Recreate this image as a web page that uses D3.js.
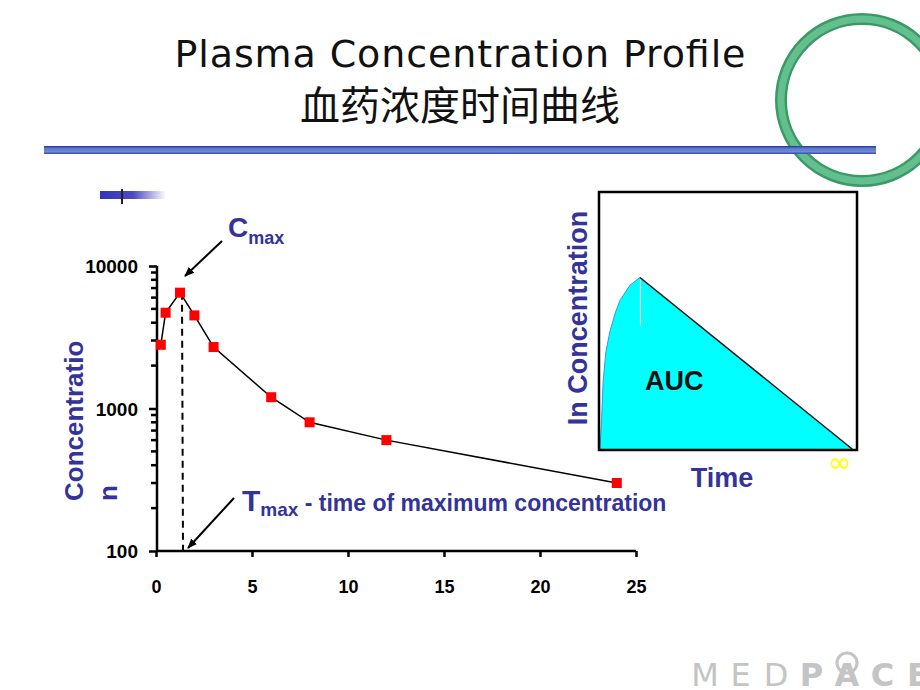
<!DOCTYPE html>
<html>
<head>
<meta charset="utf-8">
<script src="https://cdn.jsdelivr.net/npm/d3@7"></script>
<style>
body { margin: 0; background: #fff; }
svg { display: block; }
text { font-family: "Liberation Sans", Arial, sans-serif; }
</style>
</head>
<body>
<div id="chart"></div>
<script>
// plasma concentration data
var times = [0.25, 0.5, 1.25, 2, 3, 6, 8, 12, 24];
var concs = [2800, 4700, 6500, 4500, 2700, 1200, 800, 600, 300];
var xTicks = [0, 5, 10, 15, 20, 25];
var yTicks = [100, 1000, 10000];

// inset AUC sketch, arbitrary units 0..100
var insetT = [0, 0.3, 0.6, 1.2, 2.3, 3.9, 5.9, 7.8, 11.7, 15.6, 98.5];
var insetC = [0, 5, 11, 26, 38, 46, 53, 58, 64, 67, 0];

var logo = ["M", "E", "D", "P", "A", "C", "E"];

var blue = "#333399";

var svg = d3.select("#chart")
    .append("svg")
    .attr("width", 920)
    .attr("height", 690);

// ---- slide decoration ----
var defs = svg.append("defs");
var g1 = defs.append("linearGradient").attr("id", "barGrad")
    .attr("x1", 0).attr("x2", 0).attr("y1", 0).attr("y2", 1);
g1.append("stop").attr("offset", "0%").attr("stop-color", "#2a2f9a");
g1.append("stop").attr("offset", "30%").attr("stop-color", "#5a78cc");
g1.append("stop").attr("offset", "70%").attr("stop-color", "#6d8bd6");
g1.append("stop").attr("offset", "100%").attr("stop-color", "#3b45a8");

var g2 = defs.append("linearGradient").attr("id", "smallGrad");
g2.append("stop").attr("offset", "0%").attr("stop-color", "#3333bb");
g2.append("stop").attr("offset", "50%").attr("stop-color", "#4a4ac4");
g2.append("stop").attr("offset", "100%").attr("stop-color", "#ffffff");

// green ring
svg.append("circle")
    .attr("cx", 862).attr("cy", 100).attr("r", 81)
    .attr("fill", "none")
    .attr("stroke", "#3a9a66")
    .attr("stroke-width", 12);
svg.append("circle")
    .attr("cx", 862).attr("cy", 100).attr("r", 81)
    .attr("fill", "none")
    .attr("stroke", "#63c08e")
    .attr("stroke-width", 7);

// header rule
svg.append("rect")
    .attr("x", 44).attr("y", 146).attr("width", 832).attr("height", 8)
    .attr("fill", "url(#barGrad)");

// small bar by the chart
svg.append("rect")
    .attr("x", 100).attr("y", 191).attr("width", 66).attr("height", 8)
    .attr("fill", "url(#smallGrad)");
svg.append("line")
    .attr("x1", 122).attr("x2", 122).attr("y1", 189).attr("y2", 204)
    .attr("stroke", "#222").attr("stroke-width", 2);

// titles
svg.append("text")
    .attr("x", 460).attr("y", 67)
    .attr("text-anchor", "middle")
    .style("font-family", "'DejaVu Sans', sans-serif")
    .attr("font-size", 38)
    .attr("textLength", 571)
    .attr("fill", "#111")
    .text("Plasma Concentration Profile");
svg.append("text")
    .attr("x", 460).attr("y", 120)
    .attr("text-anchor", "middle")
    .style("font-family", "'Noto Sans CJK SC', sans-serif")
    .attr("font-size", 40)
    .attr("fill", "#111")
    .text("血药浓度时间曲线");

// ---- main chart ----
var x = d3.scaleLinear().domain([0, 25]).range([156, 636]);
var y = d3.scaleLog().domain([100, 10000]).range([551, 266]);

var xAxis = svg.append("g")
    .attr("transform", "translate(0,551)")
    .call(d3.axisBottom(x).tickValues(xTicks).tickSize(6).tickPadding(36).tickFormat(d3.format("d")));
xAxis.select(".domain").attr("stroke-width", 2.5).attr("d", "M156,0H636");
xAxis.selectAll(".tick line").attr("stroke-width", 2.5);
xAxis.selectAll(".tick text")
    .style("font-size", "18px").style("font-weight", "bold").attr("fill", "#000")
    .attr("dy", "0")
    .style("font-family", "'Liberation Sans', Arial, sans-serif");

var minor = [];
[100, 1000].forEach(function(base) {
    for (var k = 2; k <= 9; k++) minor.push(base * k);
});

var yAxis = svg.append("g")
    .attr("transform", "translate(157,0)")
    .call(d3.axisLeft(y).tickValues(yTicks).tickSize(8).tickPadding(11).tickFormat(d3.format("d")));
yAxis.select(".domain").attr("stroke-width", 2.5).attr("d", "M0,551V266");
yAxis.selectAll(".tick line").attr("stroke-width", 2.5);
yAxis.selectAll(".tick text")
    .style("font-size", "19px").style("font-weight", "bold").attr("fill", "#000")
    .attr("dy", "0.36em")
    .style("font-family", "'Liberation Sans', Arial, sans-serif");

svg.append("g").selectAll("line")
    .data(minor)
    .enter()
    .append("line")
    .attr("x1", 151).attr("x2", 157)
    .attr("y1", d => y(d)).attr("y2", d => y(d))
    .attr("stroke", "#000").attr("stroke-width", 2.5);

// Tmax dashed drop line
var peak = d3.maxIndex(concs);
svg.append("line")
    .attr("x1", x(times[peak]) + 2).attr("x2", x(times[peak]) + 3)
    .attr("y1", y(concs[peak])).attr("y2", y(100))
    .attr("stroke", "#000").attr("stroke-width", 2)
    .attr("stroke-dasharray", "7,5");

var line = d3.line().x((d, i) => x(times[i])).y(d => y(d));
svg.append("path")
    .datum(concs)
    .attr("d", line)
    .attr("fill", "none")
    .attr("stroke", "#000")
    .attr("stroke-width", 1.5);

svg.append("g").selectAll("rect")
    .data(concs)
    .enter()
    .append("rect")
    .attr("x", (d, i) => x(times[i]) - 5)
    .attr("y", d => y(d) - 5)
    .attr("width", 10).attr("height", 10)
    .attr("fill", "#ff0000");

// y title
var yt = svg.append("text")
    .attr("transform", "translate(83,501) rotate(-90)")
    .style("font-size", "26px").attr("font-weight", "bold").attr("fill", blue);
yt.append("tspan").attr("x", 0).attr("y", 0).text("Concentratio");
yt.append("tspan").attr("x", 0).attr("y", 34).text("n");

// arrows
defs.append("marker")
    .attr("id", "arrow")
    .attr("viewBox", "0 0 10 10")
    .attr("refX", 9).attr("refY", 5)
    .attr("markerWidth", 5).attr("markerHeight", 5)
    .attr("orient", "auto")
    .append("path")
    .attr("d", "M0,1 L10,5 L0,9 Z")
    .attr("fill", "#000");

svg.append("line")
    .attr("x1", 222).attr("y1", 241).attr("x2", 185).attr("y2", 276)
    .attr("stroke", "#000").attr("stroke-width", 2)
    .attr("marker-end", "url(#arrow)");
svg.append("line")
    .attr("x1", 234).attr("y1", 498).attr("x2", 188).attr("y2", 548)
    .attr("stroke", "#000").attr("stroke-width", 2)
    .attr("marker-end", "url(#arrow)");

var cm = svg.append("text")
    .attr("x", 228).attr("y", 237)
    .attr("fill", blue).attr("font-weight", "bold");
cm.append("tspan").style("font-size", "28px").text("C");
cm.append("tspan").style("font-size", "18px").attr("dy", 7).text("max");

var tm = svg.append("text")
    .attr("x", 242).attr("y", 511)
    .attr("fill", blue).attr("font-weight", "bold");
tm.append("tspan").style("font-size", "30px").text("T");
tm.append("tspan").style("font-size", "19px").attr("dy", 5).text("max");
tm.append("tspan").style("font-size", "23px").attr("dy", -5).text(" - time of maximum concentration");

// ---- inset AUC sketch ----
var ix = d3.scaleLinear().domain([0, 100]).range([600, 856]);
var iy = d3.scaleLinear().domain([0, 100]).range([449, 193]);

var area = d3.area()
    .x((d, i) => ix(insetT[i]))
    .y0(iy(0))
    .y1(d => iy(d));

svg.append("path")
    .datum(insetC)
    .attr("d", area)
    .attr("fill", "#00ffff");

var edge = d3.line()
    .x((d, i) => ix(insetT[i]))
    .y(d => iy(d));
svg.append("path")
    .datum(insetC.slice(0, 10))
    .attr("d", edge)
    .attr("fill", "none").attr("stroke", "#3a9ad0").attr("stroke-width", 1);
svg.append("line")
    .attr("x1", ix(insetT[9])).attr("y1", iy(insetC[9]))
    .attr("x2", ix(insetT[10])).attr("y2", iy(insetC[10]))
    .attr("stroke", "#111").attr("stroke-width", 1.5);
svg.append("line")
    .attr("x1", ix(insetT[9]) + 0.5).attr("x2", ix(insetT[9]) + 0.5)
    .attr("y1", iy(insetC[9]) + 2).attr("y2", iy(insetC[9]) + 48)
    .attr("stroke", "#fff").attr("stroke-width", 1);

svg.append("rect")
    .attr("x", 599).attr("y", 192).attr("width", 258).attr("height", 258)
    .attr("fill", "none").attr("stroke", "#000").attr("stroke-width", 2.5);

svg.append("text")
    .attr("x", 645).attr("y", 390)
    .style("font-size", "27px").attr("font-weight", "bold").attr("fill", "#111")
    .text("AUC");
svg.append("text")
    .attr("transform", "translate(587,318) rotate(-90)")
    .attr("text-anchor", "middle")
    .style("font-size", "27px").attr("font-weight", "bold").attr("fill", blue)
    .text("In Concentration");
svg.append("text")
    .attr("x", 722).attr("y", 487)
    .attr("text-anchor", "middle")
    .style("font-size", "27px").attr("font-weight", "bold").attr("fill", blue)
    .text("Time");
svg.append("text")
    .attr("x", 840).attr("y", 472)
    .attr("text-anchor", "middle")
    .style("font-family", "'DejaVu Sans', sans-serif")
    .style("font-size", "28px").attr("fill", "#ffff00")
    .text("∞");

// ---- logo ----
svg.append("g").selectAll("text")
    .data(logo)
    .enter()
    .append("text")
    .attr("x", (d, i) => 705 + i * 35.5)
    .attr("y", 686)
    .attr("text-anchor", "middle")
    .style("font-size", "32px")
    .attr("font-weight", (d, i) => i < 3 ? "normal" : "bold")
    .attr("fill", "#c4c4c4")
    .style("font-family", "'DejaVu Sans', sans-serif")
    .text(d => d);
svg.append("circle")
    .attr("cx", 847).attr("cy", 663).attr("r", 10)
    .attr("fill", "none").attr("stroke", "#c4c4c4").attr("stroke-width", 3);
</script>
</body>
</html>
